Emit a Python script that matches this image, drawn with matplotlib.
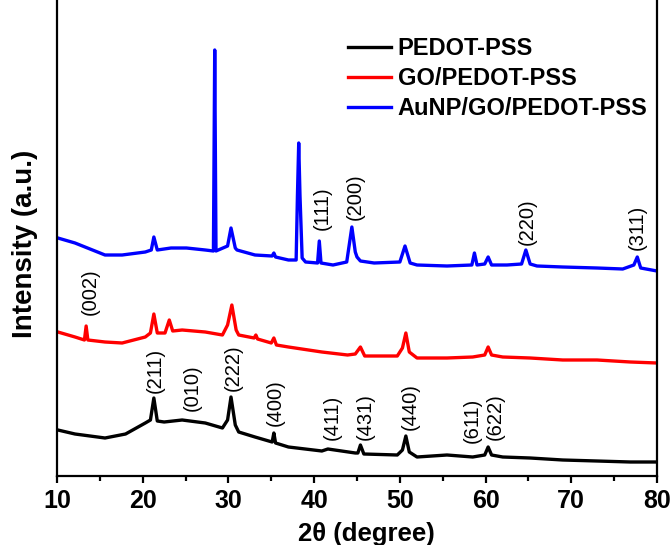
import numpy as np
import matplotlib
matplotlib.use("Agg")
import matplotlib.pyplot as plt

plt.rcParams.update({
    "font.family": ["Liberation Sans", "DejaVu Sans"],
    "font.size": 13,
    "axes.linewidth": 1.6,
})

# --- XRD patterns (2theta in degree, intensity in a.u.) ---
pedot_x = [10.1, 12.1, 15.6, 18.0, 20.3, 20.9, 21.3, 21.7, 22.5, 24.6, 27.3, 29.3,
           29.9, 30.3, 30.8, 31.2, 33.1, 35.1, 35.3, 35.5, 37.0, 40.9, 41.6, 44.8,
           45.1, 45.4, 45.8, 49.7, 50.3, 50.7, 51.1, 52.0, 55.5, 58.5, 59.9, 60.3,
           60.7, 62.0, 65.2, 69.0, 73.0, 76.9, 80.0]
pedot_y = [46, 42, 38, 42, 53, 56, 78, 55, 54, 56, 53, 48,
           56, 79, 51, 44, 39, 34, 43, 33, 29, 25, 27, 23,
           23, 31, 22, 21, 26, 40, 24, 19, 21, 19, 21, 29,
           21, 19, 18, 16, 15, 14, 14]

go_x = [10.1, 12.1, 13.2, 13.4, 13.6, 15.6, 17.6, 20.3, 20.9, 21.3, 21.7, 22.6,
        23.1, 23.5, 24.6, 27.3, 29.3, 29.9, 30.4, 30.9, 31.2, 33.0, 33.2, 33.4,
        35.0, 35.3, 35.6, 37.0, 40.9, 43.9, 44.8, 45.4, 45.9, 49.7, 50.3, 50.7,
        51.1, 52.0, 55.5, 58.5, 59.9, 60.3, 60.7, 62.0, 65.2, 69.0, 73.0, 76.9,
        80.0]
go_y = [144, 139, 136, 150, 136, 134, 133, 139, 143, 162, 143, 143,
        156, 145, 146, 144, 141, 151, 171, 146, 141, 138, 141, 137,
        133, 138, 131, 129, 124, 121, 122, 129, 120, 120, 128, 143,
        124, 118, 118, 119, 121, 129, 121, 119, 118, 116, 116, 114,
        113]

au_x = [10.1, 12.1, 15.6, 17.6, 20.3, 21.0, 21.3, 21.7, 23.3, 25.1, 27.3, 28.25,
        28.4, 28.55, 29.9, 30.3, 30.8, 31.0, 33.1, 35.1, 35.3, 35.5, 37.0, 37.9,
        38.05, 38.2, 38.35, 38.6, 39.0, 40.4, 40.6, 40.8, 42.2, 43.8, 44.4, 44.8,
        45.0, 45.4, 47.0, 50.0, 50.6, 51.2, 52.0, 55.5, 58.4, 58.7, 59.0, 59.9,
        60.3, 60.7, 62.5, 64.2, 64.7, 65.2, 66.0, 69.0, 73.0, 76.0, 77.3, 77.7,
        78.1, 80.0]
au_y = [238, 233, 221, 221, 224, 226, 239, 226, 228, 228, 226, 225,
        426, 225, 230, 248, 228, 226, 221, 220, 223, 219, 216, 216,
        280, 333, 280, 218, 214, 213, 235, 213, 211, 214, 249, 224,
        219, 215, 213, 214, 230, 213, 211, 210, 211, 223, 211, 212,
        219, 211, 211, 212, 226, 212, 210, 209, 208, 207, 211, 219,
        208, 205]

# Miller index labels: (2theta, height, text)
lab_x = [13.85, 21.43, 25.75, 30.53, 35.43, 42.08, 45.93, 51.18, 58.42, 61.10,
         40.92, 44.77, 64.83, 77.67]
lab_y = [184, 106, 88, 108, 73, 59, 59, 69, 56, 59,
         268, 279, 254, 249]
lab_t = ["(002)", "(211)", "(010)", "(222)", "(400)", "(411)", "(431)", "(440)",
         "(611)", "(622)", "(111)", "(200)", "(220)", "(311)"]

fig = plt.figure(figsize=(6.71, 5.45), dpi=100)
ax = fig.add_axes([57 / 671, 69 / 545, 600 / 671, 476 / 545])

ax.plot(pedot_x, pedot_y, color="black", lw=2.4, label="PEDOT-PSS")
ax.plot(go_x, go_y, color="#ff0000", lw=2.4, label="GO/PEDOT-PSS")
ax.plot(au_x, au_y, color="#0000ff", lw=2.4, label="AuNP/GO/PEDOT-PSS")

for x, y, t in zip(lab_x, lab_y, lab_t):
    ax.text(x, y, t, rotation=90, ha="center", va="center", fontsize=14.5)

ax.set_xlim(10, 80)
ax.set_ylim(0, 476)
ax.set_xticks(np.arange(10, 81, 10))
ax.set_xticks(np.arange(15, 80, 10), minor=True)
ax.set_yticks([])
ax.tick_params(axis="x", which="major", direction="out", length=5, width=1.6,
               labelsize=18, pad=4)
ax.tick_params(axis="x", which="minor", direction="out", length=3.5, width=1.6)
for lbl in ax.get_xticklabels():
    lbl.set_fontweight("bold")
ax.spines["top"].set_visible(False)

ax.set_xlabel("2θ (degree)", fontsize=18.5, fontweight="bold")
ax.xaxis.label.set_va("center")
ax.xaxis.set_label_coords((366 - 57) / 600, (476 - 534) / 476)
ax.set_ylabel("Intensity (a.u.)", fontsize=20, fontweight="bold")
ax.yaxis.label.set_va("center")
ax.yaxis.set_label_coords((25 - 57) / 600, (476 - 244) / 476)

leg = ax.legend(loc="upper left", bbox_to_anchor=(348 / 671, 1 - 37 / 545),
                bbox_transform=fig.transFigure, frameon=False, borderpad=0,
                borderaxespad=0, handlelength=1.8, handletextpad=0.3,
                labelspacing=0.3, prop={"weight": "bold", "size": 17})

fig.savefig("out.png", dpi=100)
